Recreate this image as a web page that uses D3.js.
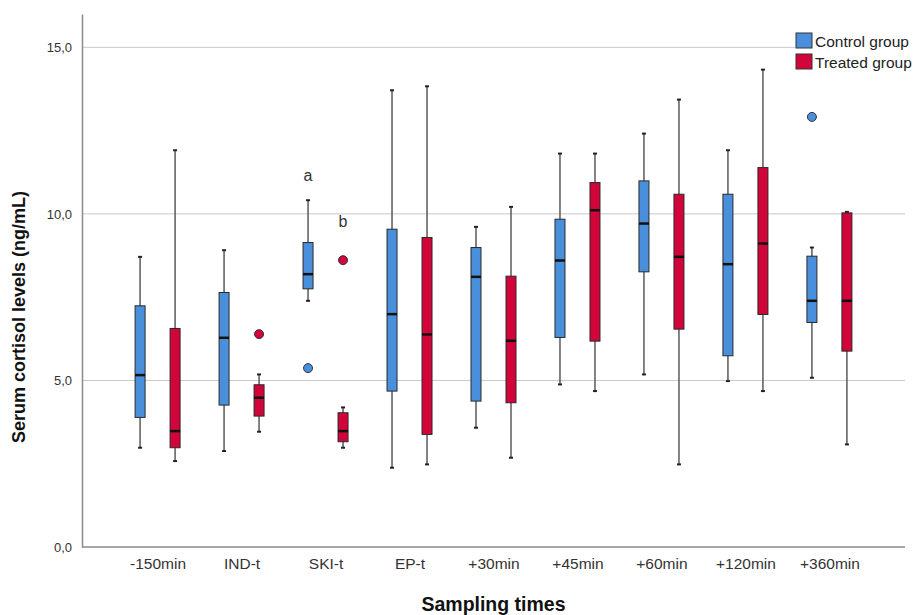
<!DOCTYPE html>
<html>
<head>
    <title>Serum cortisol boxplot</title>
    <script src="https://d3js.org/d3.v7.min.js"></script>
    <style>
        body { margin: 0; background: #fff; }
        text { font-family: Arial, "Liberation Sans", sans-serif; }
    </style>
</head>
<body>
    <script>
// sampling times on the x axis
const categories = ["-150min", "IND-t", "SKI-t", "EP-t", "+30min", "+45min", "+60min", "+120min", "+360min"];
const yTicks = [0, 5, 10, 15];

// control group: whisker ends, quartiles, median, outliers (ng/mL)
const controlMin = [2.98, 2.88, 7.39, 2.38, 3.58, 4.88, 5.18, 4.98, 5.08];
const controlQ1  = [3.89, 4.26, 7.75, 4.68, 4.38, 6.29, 8.26, 5.74, 6.74];
const controlMed = [5.16, 6.28, 8.19, 6.99, 8.11, 8.60, 9.71, 8.49, 7.39];
const controlQ3  = [7.24, 7.64, 9.14, 9.54, 8.99, 9.84, 10.99, 10.59, 8.73];
const controlMax = [8.71, 8.91, 10.41, 13.71, 9.61, 11.81, 12.41, 11.91, 8.99];
const controlOut = [[], [], [5.37], [], [], [], [], [], [12.91]];

// treated group
const treatedMin = [2.58, 3.46, 2.98, 2.48, 2.68, 4.68, 2.48, 4.68, 3.08];
const treatedQ1  = [2.98, 3.93, 3.16, 3.38, 4.33, 6.18, 6.54, 6.98, 5.88];
const treatedMed = [3.48, 4.48, 3.48, 6.38, 6.19, 10.11, 8.71, 9.11, 7.39];
const treatedQ3  = [6.56, 4.87, 4.03, 9.29, 8.13, 10.94, 10.59, 11.39, 10.03];
const treatedMax = [11.91, 5.18, 4.19, 13.83, 10.21, 11.81, 13.43, 14.33, 10.06];
const treatedOut = [[], [6.39], [8.61], [], [], [], [], [], []];

// significance letters
const annotations = [
    {cat: "SKI-t", group: 0, value: 11.0, label: "a"},
    {cat: "SKI-t", group: 1, value: 9.6, label: "b"}
];

const groups = [
    {name: "Control group", color: "#4a8fdc", min: controlMin, q1: controlQ1, med: controlMed, q3: controlQ3, max: controlMax, out: controlOut},
    {name: "Treated group", color: "#d2043a", min: treatedMin, q1: treatedQ1, med: treatedMed, q3: treatedQ3, max: treatedMax, out: treatedOut}
];

const width = 917, height = 615;
const plotLeft = 82, plotRight = 905, plotBottom = 547, plotTop = 14;

const svg = d3.select("body").append("svg")
    .attr("width", width)
    .attr("height", height);

const x = d3.scalePoint()
    .domain(categories)
    .range([plotLeft, plotRight])
    .padding(0.9);

const y = d3.scaleLinear()
    .domain([0, 16])
    .range([plotBottom, plotTop]);

const offset = 17.5;   // distance of each box from the category centre
const boxW = 10;
const capW = 4;

// gridlines
svg.append("g")
    .selectAll("line")
    .data(yTicks.filter(d => d > 0))
    .join("line")
    .attr("x1", plotLeft).attr("x2", plotRight)
    .attr("y1", d => y(d)).attr("y2", d => y(d))
    .attr("stroke", "#c8c8c8")
    .attr("stroke-width", 1);

// y axis
const yAxis = svg.append("g")
    .attr("transform", `translate(${plotLeft},0)`)
    .call(d3.axisLeft(y).tickValues(yTicks).tickSize(0).tickPadding(10)
        .tickFormat(d => d3.format(".1f")(d).replace(".", ",")));
yAxis.select(".domain").attr("stroke", "#8a8a8a").attr("stroke-width", 1.5);
yAxis.selectAll("text").attr("font-size", 13).attr("fill", "#333").attr("font-family", "Arial, 'Liberation Sans', sans-serif");

// x axis
const xAxis = svg.append("g")
    .attr("transform", `translate(0,${plotBottom})`)
    .call(d3.axisBottom(x).tickSize(0).tickPadding(11));
xAxis.select(".domain").attr("d", `M${plotLeft},0H${plotRight}`).attr("stroke", "#8a8a8a").attr("stroke-width", 1.5);
xAxis.selectAll("text").attr("font-size", 15.5).attr("fill", "#333").attr("font-family", "Arial, 'Liberation Sans', sans-serif");

// boxes
groups.forEach((g, gi) => {
    const dx = gi === 0 ? -offset : offset;
    const layer = svg.append("g");
    const rows = categories.map((c, i) => ({
        cx: x(c) + dx,
        min: g.min[i], q1: g.q1[i], med: g.med[i], q3: g.q3[i], max: g.max[i], out: g.out[i]
    }));

    // whisker line
    layer.selectAll(".whisker")
        .data(rows)
        .join("line")
        .attr("class", "whisker")
        .attr("x1", d => d.cx).attr("x2", d => d.cx)
        .attr("y1", d => y(d.max)).attr("y2", d => y(d.min))
        .attr("stroke", "#5a5a5a")
        .attr("stroke-width", 1.5);

    // caps
    ["min", "max"].forEach(k => {
        layer.selectAll(".cap-" + k)
            .data(rows)
            .join("line")
            .attr("class", "cap-" + k)
            .attr("x1", d => d.cx - capW / 2).attr("x2", d => d.cx + capW / 2)
            .attr("y1", d => y(d[k])).attr("y2", d => y(d[k]))
            .attr("stroke", "#222")
            .attr("stroke-width", 2);
    });

    // box
    layer.selectAll(".box")
        .data(rows)
        .join("rect")
        .attr("class", "box")
        .attr("x", d => d.cx - boxW / 2)
        .attr("width", boxW)
        .attr("y", d => y(d.q3))
        .attr("height", d => y(d.q1) - y(d.q3))
        .attr("fill", g.color)
        .attr("stroke", "#2a2a2a")
        .attr("stroke-width", 1);

    // median
    layer.selectAll(".median")
        .data(rows)
        .join("line")
        .attr("class", "median")
        .attr("x1", d => d.cx - boxW / 2).attr("x2", d => d.cx + boxW / 2)
        .attr("y1", d => y(d.med)).attr("y2", d => y(d.med))
        .attr("stroke", "#111")
        .attr("stroke-width", 2.5);

    // outliers
    layer.selectAll(".outlier")
        .data(rows.flatMap(d => d.out.map(v => ({cx: d.cx, v: v}))))
        .join("circle")
        .attr("class", "outlier")
        .attr("cx", d => d.cx)
        .attr("cy", d => y(d.v))
        .attr("r", 4.5)
        .attr("fill", g.color)
        .attr("stroke", "#333")
        .attr("stroke-width", 1);
});

// letters over SKI-t
svg.selectAll(".annot")
    .data(annotations)
    .join("text")
    .attr("class", "annot")
    .attr("x", d => x(d.cat) + (d.group === 0 ? -offset : offset))
    .attr("y", d => y(d.value))
    .attr("text-anchor", "middle")
    .attr("font-size", 16)
    .attr("fill", "#333")
    .text(d => d.label);

// legend
const legend = svg.append("g").attr("transform", "translate(795,31)");
legend.append("rect")
    .attr("x", 0).attr("y", 0).attr("width", 122).attr("height", 42)
    .attr("fill", "#fff");
groups.forEach((g, i) => {
    legend.append("rect")
        .attr("x", 1).attr("y", 2 + i * 21)
        .attr("width", 16).attr("height", 15)
        .attr("fill", g.color)
        .attr("stroke", "#333")
        .attr("stroke-width", 1);
    legend.append("text")
        .attr("x", 20).attr("y", 16 + i * 21)
        .attr("font-size", 15.5)
        .attr("fill", "#222")
        .text(g.name);
});

// axis titles
svg.append("text")
    .attr("x", (plotLeft + plotRight) / 2)
    .attr("y", 611)
    .attr("text-anchor", "middle")
    .attr("font-size", 19.5)
    .attr("font-weight", "bold")
    .attr("fill", "#111")
    .text("Sampling times");

svg.append("text")
    .attr("transform", "translate(25,317) rotate(-90)")
    .attr("text-anchor", "middle")
    .attr("font-size", 18)
    .attr("font-weight", "bold")
    .attr("fill", "#111")
    .text("Serum cortisol levels (ng/mL)");
    </script>
</body>
</html>
